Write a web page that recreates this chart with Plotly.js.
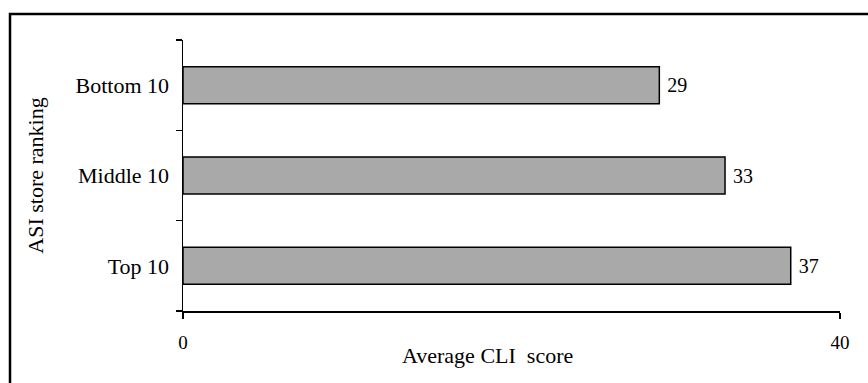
<!DOCTYPE html>
<html>
<head>
<meta charset="utf-8">
<script src="https://cdn.plot.ly/plotly-3.0.1.min.js"></script>
<style>html,body{margin:0;padding:0;background:#fff;}#chart{width:868px;height:383px;}</style>
</head>
<body>
<div id="chart"></div>
<script>
const categories = ['Top 10', 'Middle 10', 'Bottom 10'];
const scores = [37, 33, 29];
const valueLabels = ['37', '33', '29'];
const xTicks = [0, 40];
const xTickLabels = ['0', '40'];

const W = 868, H = 383, L = 183, R = 28, T = 40, B = 72;
const pw = W - L - R, ph = H - T - B;
const px = v => (v - L) / pw;
const py = v => (H - B - v) / ph;

const font = "'Liberation Serif', 'Times New Roman', Times, serif";

Plotly.newPlot('chart', [{
  type: 'bar',
  orientation: 'h',
  x: scores,
  y: categories,
  text: valueLabels.map(s => '\u00a0' + s),
  textposition: 'outside',
  textfont: {family: font, size: 20, color: '#000'},
  cliponaxis: false,
  marker: {color: '#a9a9a9', line: {color: '#000', width: 1.5}},
  hoverinfo: 'none'
}], {
  width: W, height: H,
  margin: {l: L, r: R, t: T, b: B, pad: 0},
  paper_bgcolor: '#fff', plot_bgcolor: '#fff',
  font: {family: font, color: '#000', size: 20},
  showlegend: false,
  bargap: 0.59,
  xaxis: {
    range: [0, 40], tickvals: xTicks, ticktext: xTickLabels,
    ticks: 'outside', ticklen: 6, tickwidth: 1.5, tickcolor: '#000',
    showline: true, linewidth: 1.5, linecolor: '#000',
    showgrid: false, zeroline: false, fixedrange: true,
    ticklabelstandoff: 8,
    tickfont: {family: font, size: 19, color: '#000'}
  },
  yaxis: {
    type: 'category', range: [-0.5, 2.5], tickson: 'boundaries',
    ticks: 'outside', ticklen: 6, tickwidth: 1.5, tickcolor: '#000',
    showline: true, linewidth: 1.5, linecolor: '#000',
    showgrid: false, zeroline: false, fixedrange: true,
    ticklabelstandoff: 8,
    tickfont: {family: font, size: 22, color: '#000'},
    title: {text: 'ASI store ranking', font: {family: font, size: 22, color: '#000'}, standoff: 26}
  },
  annotations: [{
    text: 'Average CLI\u00a0 score', showarrow: false,
    xref: 'paper', yref: 'paper', x: px(487.5), y: py(355),
    xanchor: 'center', yanchor: 'middle',
    font: {family: font, size: 22, color: '#000'}
  }],
  shapes: [{
    type: 'rect', xref: 'paper', yref: 'paper',
    x0: px(10), x1: px(872), y0: py(390), y1: py(14),
    line: {color: '#000', width: 2.5}, fillcolor: 'rgba(0,0,0,0)', layer: 'above'
  }]
}, {displayModeBar: false, staticPlot: true});
</script>
</body>
</html>
